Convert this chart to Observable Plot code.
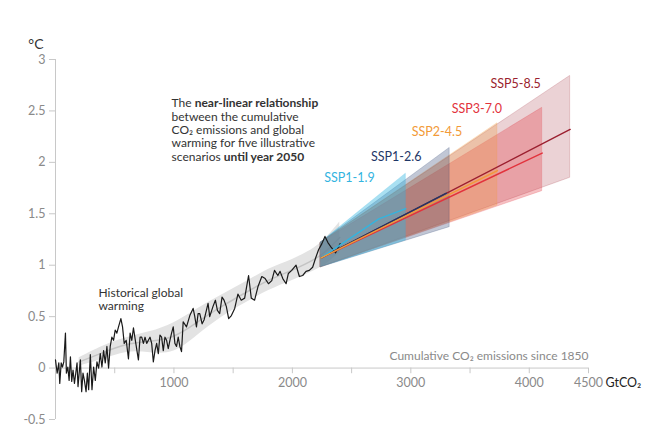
<!DOCTYPE html>
<html><head><meta charset="utf-8">
<script src="https://cdn.jsdelivr.net/npm/d3@7"></script>
<script src="https://cdn.jsdelivr.net/npm/@observablehq/plot@0.6"></script>
<style>
html,body{margin:0;padding:0;background:#fff;}
#chart{width:652px;height:426px;}
svg{font-family:Lato,"DejaVu Sans",sans-serif;}
</style></head><body><div id="chart"></div>
<script>
// Historical observations: cumulative CO2 (GtCO2) vs warming (°C)
const histG = [0,14,28,36,48,59,70,84,92,104,115,126,137,148,160,171,182,190,202,210,221,232,244,258,269,280,294,308,322,336,350,364,378,392,406,420,434,448,462,476,490,504,518,532,552,566,580,597,616,630,644,658,678,700,714,728,742,756,770,784,798,812,826,840,854,868,882,896,910,924,938,952,966,980,994,1008,1022,1036,1050,1064,1078,1106,1134,1162,1176,1190,1204,1218,1238,1255,1274,1288,1302,1330,1350,1367,1386,1406,1423,1442,1462,1485,1513,1540,1568,1597,1630,1653,1681,1709,1742,1770,1798,1826,1849,1877,1896,1919,1947,1966,1994,2031,2059,2087,2115,2143,2171,2199,2221,2249,2275,2300,2330,2365,2385,2403];
const histT = [0.08,-0.05,0.05,-0.15,0.05,0.01,0.06,0.34,-0.05,0.01,-0.12,0.11,-0.13,-0.02,-0.15,-0.05,0.05,-0.18,-0.02,0.08,-0.23,-0.05,-0.12,-0.23,-0.05,-0.21,0.13,-0.21,0.01,-0.12,0.06,0.00,0.14,0.01,0.17,0.05,0.21,0.00,0.21,0.30,0.27,0.37,0.34,0.40,0.48,0.40,0.24,0.27,0.09,0.34,0.27,0.39,0.24,0.08,0.30,0.30,0.24,0.30,0.24,0.27,0.30,0.24,0.06,0.17,0.24,0.14,0.32,0.30,0.17,0.30,0.27,0.19,0.27,0.34,0.40,0.24,0.21,0.30,0.21,0.16,0.45,0.40,0.51,0.58,0.50,0.40,0.53,0.53,0.43,0.47,0.56,0.63,0.50,0.60,0.66,0.56,0.53,0.69,0.66,0.60,0.48,0.51,0.58,0.72,0.66,0.68,0.90,0.68,0.66,0.79,0.89,0.87,0.82,0.85,0.95,0.90,0.94,0.87,0.82,0.92,0.95,1.00,0.89,0.90,0.94,0.95,0.98,1.08,1.15,1.21,1.28,1.22,1.17,1.12,1.17,1.21];

// Historical likely range band and central estimate
const bandG    = [200, 400, 600, 800, 1000, 1200, 1400, 1600, 1800, 2000, 2200, 2300, 2400];
const bandLow  = [0.02,0.08,0.17,0.15,0.13, 0.32, 0.50, 0.63, 0.76, 0.85, 0.95, 1.02, 1.12];
const bandHigh = [0.10,0.22,0.30,0.35,0.43, 0.58, 0.71, 0.83, 0.97, 1.05, 1.17, 1.28, 1.42];
const bandMid  = [0.06,0.15,0.24,0.26,0.29, 0.45, 0.60, 0.73, 0.86, 0.95, 1.06, 1.15, 1.27];

// Scenarios until 2050
const scenarios  = ["SSP1-1.9","SSP1-2.6","SSP2-4.5","SSP3-7.0","SSP5-8.5"];
const scenColors = ["#33b4df","#1f3767","#f29a38","#e2323c","#9b1f2f"];
const startG    = [2240,2240,2240,2240,2240];
const startLow  = [0.98,0.98,0.98,0.98,0.98];
const startHigh = [1.22,1.22,1.22,1.22,1.22];
const endG    = [2958,3328,3731,4109,4345];
const endLow  = [1.24,1.37,1.58,1.72,1.85];
const endHigh = [1.89,2.14,2.38,2.53,2.84];
// central lines
const lineSSP119 = [[2240,1.07],[2730,1.45],[2958,1.55]];
const lineSSP126 = [[2240,1.07],[3300,1.70]];
const lineSSP245 = [[2240,1.07],[3731,1.92]];
const lineSSP370 = [[2240,1.07],[4109,2.09]];
const lineSSP585 = [[2240,1.07],[4345,2.32]];
const scenLines = [lineSSP119,lineSSP126,lineSSP245,lineSSP370,lineSSP585];
const labelG = [2269,2664,3008,3345,3672];
const labelT = [1.85,2.05,2.30,2.52,2.76];

// Axis ticks
const yTicks = [-0.5,0,0.5,1,1.5,2,2.5,3];
const xTicks = [500,1000,1500,2000,2500,3000,3500,4000,4500];
const xTickLabels = [1000,2000,3000,4000,4500];

const hist = histG.map((g,i)=>({G:g,T:histT[i]}));
const band = bandG.map((g,i)=>({G:g,low:bandLow[i],high:bandHigh[i],mid:bandMid[i]}));

const bandOrder = [4,3,2,1,0];
const bandOpacity = [0.42,0.28,0.28,0.3,0.2];
const lineOrder = [4,3,1,0,2];

const scenBandMarks = bandOrder.map(i => Plot.areaY(
  [{G:startG[i],low:startLow[i],high:startHigh[i]},{G:endG[i],low:endLow[i],high:endHigh[i]}],
  {x:"G", y1:"low", y2:"high", fill:scenColors[i], fillOpacity:bandOpacity[i],
   stroke:scenColors[i], strokeOpacity:0.25, strokeWidth:0.8}));
const scenLineMarks = lineOrder.map(i => Plot.line(scenLines[i], {x:d=>d[0], y:d=>d[1], stroke:scenColors[i], strokeWidth:1.4}));

const annot = "The near-linear relationship\nbetween the cumulative\nCO₂ emissions and global\nwarming for five illustrative\nscenarios until year 2050";

const chart = Plot.plot({
  width:652, height:426,
  marginLeft:55, marginRight:64, marginTop:59, marginBottom:7,
  x:{domain:[0,4500], axis:null},
  y:{domain:[-0.5,3], axis:null},
  style:{fontFamily:"Lato, 'DejaVu Sans', sans-serif", background:"#fff", overflow:"visible"},
  marks:[
    Plot.ruleX([0], {y1:-0.5, y2:3, stroke:"#c8c8c8"}),
    Plot.axisY(yTicks, {tickSize:6, tickPadding:4, tickFormat:d=>String(d), stroke:"#c8c8c8", fill:"#8a8a8a", fontSize:12.5}),
    Plot.ruleY([0], {x1:0, x2:4500, stroke:"#c8c8c8"}),
    Plot.ruleX(xTicks, {x:d=>d, y1:0, y2:-0.055, stroke:"#c8c8c8"}),
    Plot.text(xTickLabels, {x:d=>d, y:0, dy:15, text:d=>String(d), fill:"#8a8a8a", fontSize:12.5}),
    Plot.text(["GtCO₂"], {x:4500, y:0, dx:17, dy:15, text:d=>d, textAnchor:"start", fill:"#222", fontSize:12.5}),
    Plot.text(["°C"], {x:0, y:3, dx:-12, dy:-15, text:d=>d, textAnchor:"end", fill:"#333", fontSize:14}),
    Plot.text(["Cumulative CO₂ emissions since 1850"], {x:4500, y:0.117, text:d=>d, textAnchor:"end", fill:"#8a8a8a", fontSize:12}),
    // historical band
    Plot.areaY(band, {x:"G", y1:"low", y2:"high", fill:"#e3e3e3", curve:"basis"}),
    Plot.line(band, {x:"G", y:"mid", stroke:"#c4c4c4", strokeWidth:1.5, curve:"basis"}),
    ...scenBandMarks,
    Plot.line(hist, {x:"G", y:"T", stroke:"#1a1a1a", strokeWidth:1.2}),
    ...scenLineMarks,
    Plot.text(scenarios, {x:(d,i)=>labelG[i], y:(d,i)=>labelT[i], text:d=>d, fill:(d,i)=>scenColors[i], textAnchor:"start", fontSize:12.5}),
    Plot.text(["Historical global\nwarming"], {x:363, y:0.67, text:d=>d, textAnchor:"start", fill:"#333", fontSize:12, lineHeight:1.06}),
    Plot.text([annot], {x:980, y:2.318, text:d=>d, textAnchor:"start", fill:"#333", fontSize:12, lineHeight:1.12})
  ]
});
document.getElementById("chart").appendChild(chart);

// Bold phrases in the annotation
d3.select(chart).selectAll("tspan").each(function(){
  const t = this.textContent;
  if (t === "The near-linear relationship") {
    this.textContent = "The ";
    d3.select(this).append("tspan").attr("font-weight","bold").text("near-linear relationship");
  } else if (t === "scenarios until year 2050") {
    this.textContent = "scenarios ";
    d3.select(this).append("tspan").attr("font-weight","bold").text("until year 2050");
  }
});
</script></body></html>
